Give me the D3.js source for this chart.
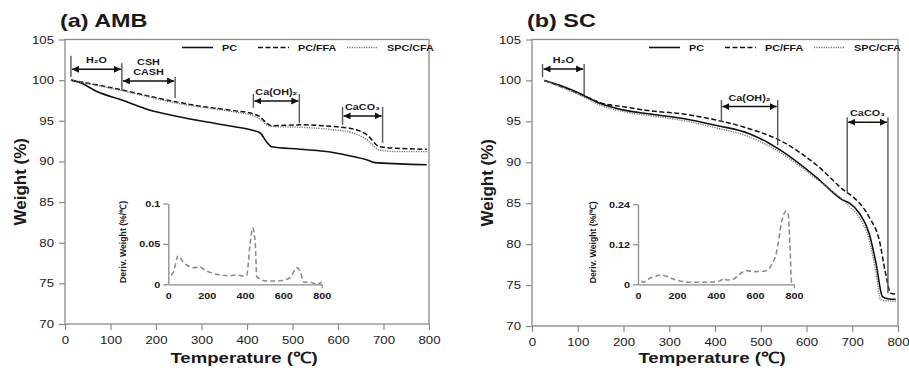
<!DOCTYPE html>
<html>
<head>
<meta charset="utf-8">
<script src="https://cdn.jsdelivr.net/npm/d3@7"></script>
<style>
  body { margin: 0; background: #fff; }
  svg { display: block; }
  text { font-family: "Liberation Sans", Arial, sans-serif; fill: #1a1a1a; }
</style>
</head>
<body>
<div id="chart"></div>
<script>
// ---- data: [temperature (C), weight (%)] ----
var ambPC = [[13,100],[33,99.7],[70,98.6],[125,97.55],[187,96.3],[242,95.6],[297,95.0],[370,94.3],
  [414,93.8],[429,93.5],[443,92.4],[454,91.8],[516,91.5],[589,91.1],[633,90.6],[663,90.2],
  [681,89.85],[736,89.7],[795,89.6]];
var ambFFA = [[13,100],[125,98.8],[187,98.0],[242,97.35],[297,96.8],[370,96.25],[414,95.85],
  [429,95.5],[443,94.7],[454,94.4],[516,94.5],[589,94.3],[633,94.0],[663,93.3],[692,91.8],
  [736,91.6],[795,91.5]];
var ambSPC = [[13,100],[125,98.7],[187,97.9],[242,97.2],[297,96.7],[370,96.1],[414,95.6],
  [429,95.2],[443,94.5],[454,94.3],[516,94.2],[589,93.9],[633,93.5],[663,92.7],[692,91.4],
  [736,91.2],[795,91.2]];

var scPC = [[27,100],[61,99.4],[112,98.2],[148,97.2],[199,96.4],[257,95.9],[330,95.35],[403,94.5],
  [475,93.5],[519,92.3],[548,91.3],[621,88.2],[679,85.4],[694,85.0],[716,83.75],[737,81.3],
  [752,77.65],[766,73.6],[780,73.3],[795,73.25]];
var scFFA = [[27,100],[112,98.2],[148,97.3],[199,96.8],[257,96.3],[330,95.9],[403,95.15],
  [475,94.1],[548,92.5],[621,89.7],[686,86.4],[701,85.8],[737,83.3],[759,80.5],[773,76.4],
  [784,74.0],[795,73.9]];
var scSPC = [[27,100],[112,98.0],[148,97.0],[199,96.2],[257,95.7],[330,95.1],[403,94.2],
  [475,93.1],[548,91.0],[621,88.0],[694,84.6],[716,83.2],[737,80.5],[752,76.5],[762,73.2],
  [795,73.0]];

// derivative insets: [temperature (C), deriv. weight (%/C)]
var ambDeriv = [[14,0.0115],[26,0.0148],[52,0.0354],[70,0.030],[96,0.0239],[139,0.0206],
  [157,0.0218],[200,0.0165],[252,0.0123],[322,0.0107],[357,0.0115],[391,0.0103],[409,0.0115],
  [426,0.0486],[440,0.070],[454,0.0486],[461,0.0095],[513,0.0041],[565,0.0041],[635,0.0082],
  [670,0.0206],[687,0.0165],[708,0.0025],[739,0.0025],[774,0.0004],[800,0.0025]];
var scDeriv = [[17,0.010],[26,0.006],[60,0.018],[94,0.025],[120,0.028],[163,0.020],[214,0.010],
  [283,0.006],[351,0.006],[420,0.010],[442,0.018],[454,0.013],[488,0.016],[540,0.038],
  [557,0.041],[591,0.038],[651,0.040],[685,0.058],[711,0.098],[737,0.188],[759,0.220],
  [771,0.208],[779,0.118],[788,0.006],[797,0]];

var seriesNames = ['PC', 'PC/FFA', 'SPC/CFA'];
var weightTicks = [70, 75, 80, 85, 90, 95, 100, 105];
var tempTicks = [0, 100, 200, 300, 400, 500, 600, 700, 800];
var insetTempTicks = [0, 200, 400, 600, 800];
var ambDerivTicks = [0, 0.05, 0.1];
var scDerivTicks = [0, 0.12, 0.24];

// region markers: [temperature, top weight, bottom weight]
var ambMarks = [[13,103.0,100.4],[125,102.1,98.7],[242,100.4,97.8],[414,98.3,96.6],
  [515,98.3,94.7],[610,96.7,94.5],[698,96.7,92.3]];
var ambSpans = [
  {name: ['H₂O'], from: 13, to: 125, at: 101.33},
  {name: ['CSH', 'CASH'], from: 125, to: 242, at: 99.9},
  {name: ['Ca(OH)₂'], from: 414, to: 515, at: 97.43},
  {name: ['CaCO₃'], from: 610, to: 698, at: 95.6}
];
var scMarks = [[23,102.0,100.4],[114,102.0,98.2],[414,97.6,94.9],[537,97.6,92.1],
  [689,95.5,86.2],[778,95.5,74.0]];
var scSpans = [
  {name: ['H₂O'], from: 23, to: 114, at: 101.4},
  {name: ['Ca(OH)₂'], from: 414, to: 537, at: 96.8},
  {name: ['CaCO₃'], from: 689, to: 778, at: 94.9}
];

// ---- drawing ----
var svg = d3.select('#chart').append('svg')
  .attr('width', 909)
  .attr('height', 370);

svg.append('defs').append('marker')
  .attr('id', 'head')
  .attr('viewBox', '0 0 10 10')
  .attr('refX', 10).attr('refY', 5)
  .attr('markerWidth', 7).attr('markerHeight', 7)
  .attr('markerUnits', 'userSpaceOnUse')
  .attr('orient', 'auto-start-reverse')
  .append('path')
  .attr('d', 'M0 0L10 5L0 10z')
  .attr('fill', '#111');

var styles = [
  {stroke: '#111', width: 1.6, dash: null},
  {stroke: '#111', width: 1.5, dash: '5,2.5'},
  {stroke: '#777', width: 1.4, dash: '1.2,1.2'}
];
var axisGray = '#8a8a8a';

// text stretched sideways, like the picture
function label(g, x, y, s, size, anchor, sx, bold) {
  return g.append('text')
    .attr('transform', 'translate(' + x + ',' + y + ') scale(' + (sx || 1.2) + ',1)')
    .attr('text-anchor', anchor || 'start')
    .style('font-size', size + 'px')
    .style('font-weight', bold === false ? 'normal' : 'bold')
    .text(s);
}

function drawPanel(p) {
  var g = svg.append('g');
  var x = d3.scaleLinear().domain([0, 800]).range([p.left, p.right]);
  var y = d3.scaleLinear().domain([70, 105]).range([p.bottom, p.top]);

  label(g, p.left - 5, 27, p.title, 18, 'start', 1.3);

  // frame
  g.append('rect')
    .attr('x', p.left).attr('y', p.top)
    .attr('width', p.right - p.left).attr('height', p.bottom - p.top)
    .attr('fill', 'none').attr('stroke', axisGray).attr('stroke-width', 1.3);

  var ya = g.append('g')
    .attr('transform', 'translate(' + p.left + ',0)')
    .call(d3.axisLeft(y).tickValues(weightTicks).tickSize(6).tickSizeOuter(0));
  var xa = g.append('g')
    .attr('transform', 'translate(0,' + p.bottom + ')')
    .call(d3.axisBottom(x).tickValues(tempTicks).tickSize(6).tickSizeOuter(0));
  [ya, xa].forEach(function(a) {
    a.select('.domain').remove();
    a.selectAll('line').attr('stroke', axisGray).attr('stroke-width', 1.2);
    a.selectAll('text')
      .style('font-size', '11px')
      .style('font-family', '"Liberation Sans", Arial, sans-serif')
      .attr('fill', '#222');
  });
  ya.selectAll('text').attr('x', -11 / 1.2).attr('transform', 'scale(1.2,1)');
  xa.selectAll('text').attr('y', 0).attr('dy', 0)
    .attr('transform', 'translate(0,20) scale(1.2,1)');

  label(g, (p.left + p.right) / 2 - 3, 363, 'Temperature (℃)', 15.5, 'middle', 1.2);
  g.append('text')
    .attr('transform', 'translate(' + (p.left - 39) + ',' + ((p.top + p.bottom) / 2) + ') rotate(-90)')
    .attr('text-anchor', 'middle')
    .style('font-size', '17px').style('font-weight', 'bold')
    .text('Weight (%)');

  // curves
  var line = d3.line()
    .x(function(d) { return x(d[0]); })
    .y(function(d) { return y(d[1]); })
    .curve(d3.curveMonotoneX);
  p.series.forEach(function(s, i) {
    g.append('path')
      .attr('d', line(s))
      .attr('fill', 'none')
      .attr('stroke', styles[i].stroke)
      .attr('stroke-width', styles[i].width)
      .attr('stroke-dasharray', styles[i].dash);
  });

  // legend
  var offsets = [0, 76, 165];
  seriesNames.forEach(function(n, i) {
    var lx = p.left + 117 + offsets[i];
    g.append('line')
      .attr('x1', lx).attr('x2', lx + 31)
      .attr('y1', 47.5).attr('y2', 47.5)
      .attr('stroke', styles[i].stroke)
      .attr('stroke-width', styles[i].width)
      .attr('stroke-dasharray', styles[i].dash);
    label(g, lx + 40, 51, n, 9, 'start', 1.2);
  });

  // region markers
  g.selectAll('line.mark').data(p.marks).enter().append('line')
    .attr('class', 'mark')
    .attr('x1', function(d) { return x(d[0]); })
    .attr('x2', function(d) { return x(d[0]); })
    .attr('y1', function(d) { return y(d[1]); })
    .attr('y2', function(d) { return y(d[2]); })
    .attr('stroke', '#555').attr('stroke-width', 1.4);
  p.spans.forEach(function(s) {
    g.append('line')
      .attr('x1', x(s.from) + 1).attr('x2', x(s.to) - 1)
      .attr('y1', y(s.at)).attr('y2', y(s.at))
      .attr('stroke', '#111').attr('stroke-width', 1.5)
      .attr('marker-start', 'url(#head)')
      .attr('marker-end', 'url(#head)');
    var cx = (x(s.from) + x(s.to)) / 2;
    s.name.slice().reverse().forEach(function(t, k) {
      label(g, cx, y(s.at) - 6 - k * 10, t, 9, 'middle', 1.2);
    });
  });

  // derivative inset
  var ix = d3.scaleLinear().domain([0, 800]).range([p.inset.left, p.inset.right]);
  var iy = d3.scaleLinear().domain([0, p.inset.max]).range([p.inset.bottom, p.inset.top]);
  var iya = g.append('g')
    .attr('transform', 'translate(' + p.inset.left + ',0)')
    .call(d3.axisLeft(iy).tickValues(p.inset.ticks).tickSize(5).tickSizeOuter(0)
      .tickFormat(function(d) { return d === 0 ? '0' : String(d); }));
  var ixa = g.append('g')
    .attr('transform', 'translate(0,' + p.inset.bottom + ')')
    .call(d3.axisBottom(ix).tickValues(insetTempTicks).tickSize(0).tickSizeOuter(0));
  ixa.selectAll('.tick').filter(function(d) { return d === 800; }).select('line')
    .attr('y2', 4);
  [iya, ixa].forEach(function(a) {
    a.select('.domain').attr('stroke', axisGray).attr('stroke-width', 1.3);
    a.selectAll('line').attr('stroke', axisGray).attr('stroke-width', 1.2);
    a.selectAll('text')
      .style('font-size', '9px').style('font-weight', 'bold')
      .style('font-family', '"Liberation Sans", Arial, sans-serif')
      .attr('fill', '#222');
  });
  iya.selectAll('text').attr('x', -8 / 1.2).attr('transform', 'scale(1.2,1)');
  ixa.selectAll('text').attr('y', 0).attr('dy', 0)
    .attr('transform', 'translate(0,15) scale(1.2,1)');
  g.append('text')
    .attr('transform', 'translate(' + (p.inset.left - 42) + ',' +
      ((p.inset.top + p.inset.bottom) / 2 - 2) + ') rotate(-90)')
    .attr('text-anchor', 'middle')
    .style('font-size', '8.7px').style('font-weight', 'bold')
    .text('Deriv. Weight (%/℃)');
  g.append('path')
    .attr('d', d3.line()
      .x(function(d) { return ix(d[0]); })
      .y(function(d) { return iy(d[1]); })
      .curve(d3.curveMonotoneX)(p.inset.data))
    .attr('fill', 'none')
    .attr('stroke', '#8c8c8c')
    .attr('stroke-width', 1.6)
    .attr('stroke-dasharray', '5,3');
}

drawPanel({
  title: '(a) AMB', left: 65, right: 429, top: 39.5, bottom: 324,
  series: [ambPC, ambFFA, ambSPC], marks: ambMarks, spans: ambSpans,
  inset: {left: 168.3, right: 321.7, top: 203.5, bottom: 284.3, max: 0.1,
    ticks: ambDerivTicks, data: ambDeriv}
});
drawPanel({
  title: '(b) SC', left: 532, right: 898, top: 39.5, bottom: 326,
  series: [scPC, scFFA, scSPC], marks: scMarks, spans: scSpans,
  inset: {left: 638, right: 794, top: 204.3, bottom: 284.3, max: 0.24,
    ticks: scDerivTicks, data: scDeriv}
});
</script>
</body>
</html>
